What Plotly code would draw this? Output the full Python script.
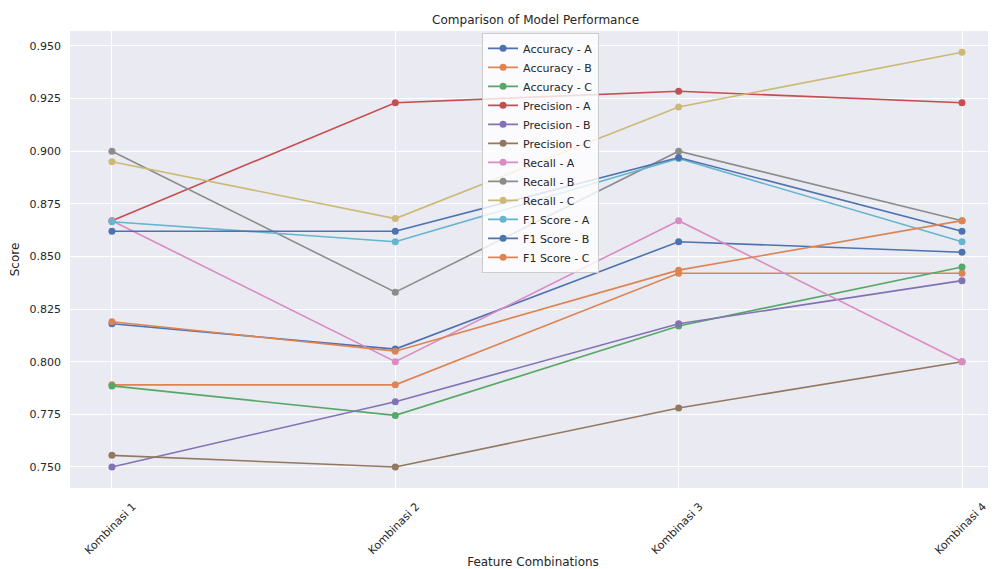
import plotly.graph_objects as go

categories = ["Kombinasi 1", "Kombinasi 2", "Kombinasi 3", "Kombinasi 4"]

accuracy_a = [0.818, 0.806, 0.857, 0.852]
accuracy_b = [0.789, 0.789, 0.842, 0.842]
accuracy_c = [0.7885, 0.7745, 0.817, 0.845]
precision_a = [0.867, 0.923, 0.9285, 0.923]
precision_b = [0.750, 0.781, 0.818, 0.8385]
precision_c = [0.7555, 0.750, 0.778, 0.800]
recall_a = [0.867, 0.800, 0.867, 0.800]
recall_b = [0.900, 0.833, 0.900, 0.867]
recall_c = [0.895, 0.868, 0.921, 0.947]
f1_a = [0.8665, 0.857, 0.8965, 0.857]
f1_b = [0.862, 0.862, 0.897, 0.862]
f1_c = [0.819, 0.805, 0.8435, 0.867]

series = [
    ("Accuracy - A", accuracy_a, "#4C72B0"),
    ("Accuracy - B", accuracy_b, "#DD8452"),
    ("Accuracy - C", accuracy_c, "#55A868"),
    ("Precision - A", precision_a, "#C44E52"),
    ("Precision - B", precision_b, "#8172B3"),
    ("Precision - C", precision_c, "#937860"),
    ("Recall - A", recall_a, "#DA8BC3"),
    ("Recall - B", recall_b, "#8C8C8C"),
    ("Recall - C", recall_c, "#CCB974"),
    ("F1 Score - A", f1_a, "#64B5CD"),
    ("F1 Score - B", f1_b, "#4C72B0"),
    ("F1 Score - C", f1_c, "#DD8452"),
]

y_ticks = [0.750, 0.775, 0.800, 0.825, 0.850, 0.875, 0.900, 0.925, 0.950]

fig = go.Figure()
for name, vals, color in series:
    fig.add_trace(go.Scatter(
        x=list(range(len(categories))), y=vals, name=name, mode="lines+markers",
        line=dict(color=color, width=1.6),
        marker=dict(color=color, size=7),
    ))

font_color = "#262626"
fig.update_layout(
    width=988, height=561,
    paper_bgcolor="white", plot_bgcolor="#EAEAF2",
    font=dict(family="DejaVu Sans", size=11, color=font_color),
    margin=dict(l=62, r=0, t=23, b=81),
    title=dict(text="Comparison of Model Performance", x=0.534, xanchor="center",
               y=0.979, yanchor="middle", font=dict(size=12, color=font_color)),
    xaxis=dict(
        range=[-0.148, 3.12], tickmode="array", tickvals=list(range(len(categories))),
        ticktext=categories, tickangle=-45, showgrid=True, gridcolor="white",
        gridwidth=1, zeroline=False, showline=False, ticks="",
        ticklabelshift=21, ticklabelstandoff=9,
        title=dict(text="Feature Combinations", font=dict(size=12), standoff=2),
    ),
    yaxis=dict(
        range=[0.7400, 0.9571], tickmode="array", tickvals=y_ticks,
        ticktext=[f"{v:.3f}" for v in y_ticks], showgrid=True, gridcolor="white",
        gridwidth=1, zeroline=False, showline=False, ticks="",
        ticklabelstandoff=8,
        title=dict(text="Score", font=dict(size=12), standoff=10),
    ),
    legend=dict(
        x=0.445, y=0.996, xanchor="left", yanchor="top",
        bgcolor="rgba(255,255,255,0.8)", bordercolor="#CCCCCC", borderwidth=1,
        font=dict(size=11, color=font_color), tracegroupgap=0, itemwidth=30,
    ),
    showlegend=True,
)

fig.write_html("out.html")
